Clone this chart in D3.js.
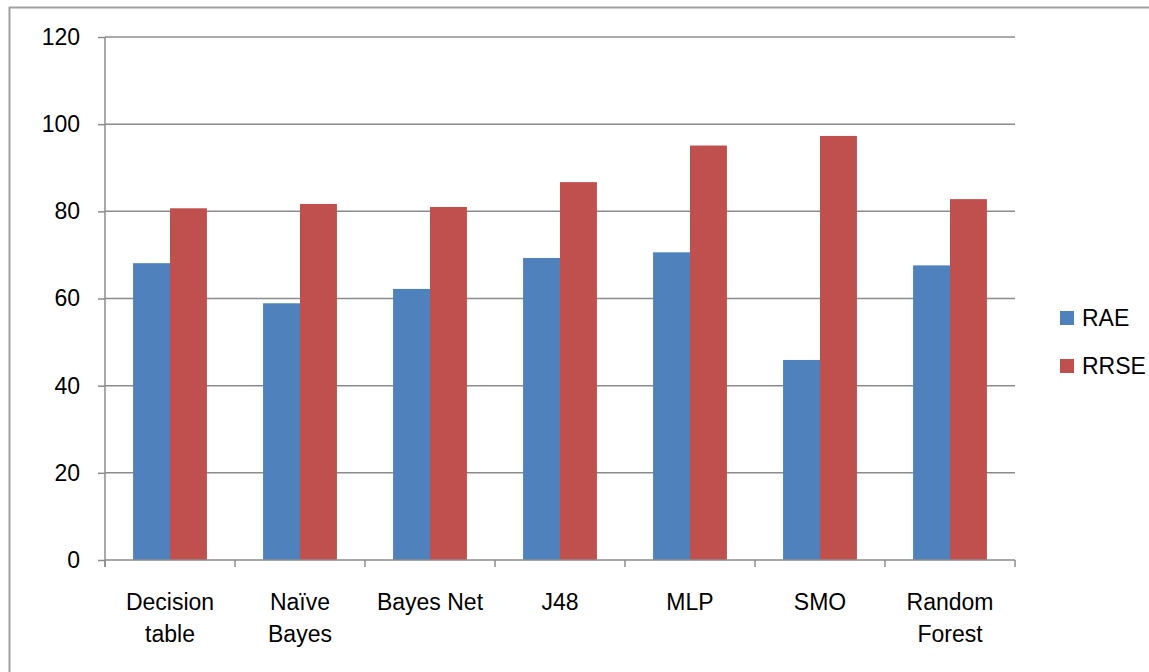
<!DOCTYPE html>
<html>
<head>
<meta charset="utf-8">
<script src="https://cdn.jsdelivr.net/npm/d3@7"></script>
<style>
  body { margin: 0; background: #fff; }
  svg { display: block; font-family: "Liberation Sans", Arial, sans-serif; }
</style>
</head>
<body>
<div id="content"></div>
<script>
// chart values
let classifiers = ['Decision table', 'Naïve Bayes', 'Bayes Net', 'J48', 'MLP', 'SMO', 'Random Forest'];
let tickLines = [['Decision', 'table'], ['Naïve', 'Bayes'], ['Bayes Net'], ['J48'], ['MLP'], ['SMO'], ['Random', 'Forest']];
let seriesNames = ['RAE', 'RRSE'];
let rae = [68.1, 58.9, 62.2, 69.3, 70.6, 45.9, 67.6];
let rrse = [80.7, 81.7, 81.0, 86.7, 95.1, 97.3, 82.8];
let colors = ['#4F81BD', '#C0504D'];
let yTicks = [0, 20, 40, 60, 80, 100, 120];

let width = 1149, height = 672;
let plotLeft = 105, plotRight = 1015, plotTop = 37, plotBottom = 560;

let svg = d3.select('#content').append('svg')
  .attr('width', width)
  .attr('height', height);

// outer frame
svg.append('rect')
  .attr('x', 9.5).attr('y', 7.5)
  .attr('width', width).attr('height', height)
  .attr('fill', 'none')
  .attr('stroke', '#a0a0a0')
  .attr('stroke-width', 2);

let x = d3.scaleBand()
  .domain(classifiers)
  .range([plotLeft, plotRight])
  .padding(0);

let xSub = d3.scaleBand()
  .domain(seriesNames)
  .range([0, x.bandwidth()])
  .paddingOuter(0.76)
  .paddingInner(0);

let y = d3.scaleLinear()
  .domain([0, 120])
  .range([plotBottom, plotTop]);

// gridlines
svg.append('g')
  .selectAll('line')
  .data(yTicks.slice(1))
  .join('line')
  .attr('x1', plotLeft).attr('x2', plotRight)
  .attr('y1', d => y(d)).attr('y2', d => y(d))
  .attr('stroke', '#8c8c8c')
  .attr('stroke-width', 1.5);

// y axis
let yAxis = svg.append('g')
  .attr('transform', `translate(${plotLeft},0)`)
  .call(d3.axisLeft(y).tickValues(yTicks).tickSize(7).tickPadding(18));
yAxis.select('.domain').remove();
yAxis.selectAll('.tick line').attr('stroke', '#8c8c8c').attr('stroke-width', 1.5);
yAxis.selectAll('.tick text')
  .attr('font-size', 23)
  .attr('font-family', '"Liberation Sans", Arial, sans-serif')
  .attr('fill', '#000');
yAxis.append('line')
  .attr('x1', 0).attr('x2', 0)
  .attr('y1', y(120)).attr('y2', plotBottom + 7)
  .attr('stroke', '#8c8c8c')
  .attr('stroke-width', 1.5);

// bars
let rows = classifiers.map((c, i) => ({ name: c, values: [rae[i], rrse[i]] }));
let groups = svg.append('g')
  .selectAll('g')
  .data(rows)
  .join('g')
  .attr('transform', d => `translate(${x(d.name)},0)`);

groups.selectAll('rect')
  .data(d => d.values.map((v, j) => ({ key: seriesNames[j], value: v, j: j })))
  .join('rect')
  .attr('x', d => xSub(d.key))
  .attr('width', xSub.bandwidth())
  .attr('y', d => y(d.value))
  .attr('height', d => y(0) - y(d.value))
  .attr('fill', d => colors[d.j]);

// x axis
let xAxis = svg.append('g')
  .attr('transform', `translate(0,${plotBottom})`);
xAxis.append('line')
  .attr('x1', plotLeft).attr('x2', plotRight)
  .attr('stroke', '#8c8c8c')
  .attr('stroke-width', 1.5);
xAxis.selectAll('line.tk')
  .data(classifiers.map(c => x(c)).concat([plotRight]))
  .join('line')
  .attr('class', 'tk')
  .attr('x1', d => d).attr('x2', d => d)
  .attr('y1', 0).attr('y2', 7)
  .attr('stroke', '#8c8c8c')
  .attr('stroke-width', 1.5);

let labels = xAxis.selectAll('text')
  .data(classifiers)
  .join('text')
  .attr('x', d => x(d) + x.bandwidth() / 2)
  .attr('y', 50)
  .attr('text-anchor', 'middle')
  .attr('font-size', 23)
  .attr('fill', '#000');
labels.selectAll('tspan')
  .data((d, i) => tickLines[i])
  .join('tspan')
  .attr('x', function() { return this.parentNode.getAttribute('x'); })
  .attr('dy', (d, i) => i === 0 ? 0 : 32)
  .text(d => d);

// legend
let legend = svg.append('g')
  .selectAll('g')
  .data(seriesNames)
  .join('g')
  .attr('transform', (d, i) => `translate(1060,${311 + i * 48})`);
legend.append('rect')
  .attr('width', 14).attr('height', 14)
  .attr('fill', (d, i) => colors[i]);
legend.append('text')
  .attr('x', 22).attr('y', 7)
  .attr('dy', '0.35em')
  .attr('font-size', 23)
  .attr('fill', '#000')
  .text(d => d);
</script>
</body>
</html>
